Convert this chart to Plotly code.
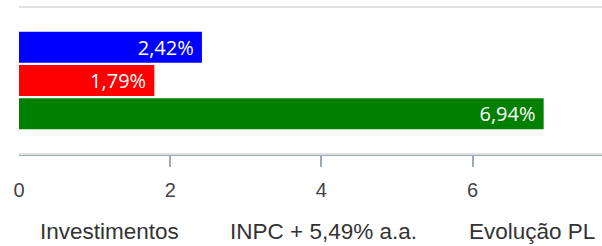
import plotly.graph_objects as go

series_names = ["Investimentos", "INPC + 5,49% a.a.", "Evolução PL"]
series_values = [2.42, 1.79, 6.94]
series_colors = ["#0000ff", "#ff0000", "#008000"]
category = ["Rentabilidade"]
tick_values = [0, 2, 4, 6]
tick_marks = [2, 4, 6]

fig = go.Figure()
for name, val, col in zip(series_names, series_values, series_colors):
    fig.add_trace(go.Bar(
        y=category, x=[val], name=name, orientation="h",
        marker=dict(color=col, line=dict(width=0)),
        texttemplate="%{x:.2f}%\u00a0", textposition="inside", insidetextanchor="end",
        constraintext="none",
        textfont=dict(family="Open Sans", size=20, color="#ffffff"),
        showlegend=False, hoverinfo="skip",
    ))

L, R = 19, 0
W, H = 602, 246
top, bottom = 7, 154
pw = W - L - R
ph = bottom - top
xmax = (W - L - R) / 75.6

def px_x(px):
    return (px - L) / pw

def px_y(py):
    return (bottom - py) / ph

legend_x = [38, 228, 467]
for name, lx in zip(series_names, legend_x):
    fig.add_annotation(text=name, x=px_x(lx), y=px_y(231), xref="paper", yref="paper",
                       xanchor="left", yanchor="middle", showarrow=False,
                       font=dict(family="Liberation Sans, Arial", size=22.5, color="#333333"))

fig.add_shape(type="line", xref="paper", yref="paper", x0=0, x1=1, y0=1, y1=1,
              line=dict(color="#e0e0e0", width=2))
fig.add_shape(type="line", xref="paper", yref="paper", x0=0, x1=1, y0=0, y1=0,
              line=dict(color="#e0e0e0", width=2))

fig.update_layout(
    width=W, height=H,
    margin=dict(l=L, r=R, t=top, b=H - bottom),
    paper_bgcolor="white", plot_bgcolor="white",
    barmode="group", bargap=0.32, bargroupgap=0.07,
    separators=",.",
    showlegend=False,
    hovermode=False,
    xaxis=dict(range=[0, xmax], tickvals=tick_values, showgrid=False, zeroline=False,
               showline=True, linecolor="#9aaab8", linewidth=2,
               ticks="", ticklabelstandoff=17,
               minor=dict(tickvals=tick_marks, ticks="outside", ticklen=11, tickwidth=2,
                          tickcolor="#9aaab8", showgrid=False),
               tickfont=dict(family="Liberation Sans, Arial", size=20, color="#444444")),
    yaxis=dict(autorange="reversed", showticklabels=False, showgrid=False, zeroline=False,
               showline=False, ticks=""),
)

fig.write_html("out.html", config={"displayModeBar": False, "staticPlot": True},
               post_script="document.body.style.margin='0px';")
